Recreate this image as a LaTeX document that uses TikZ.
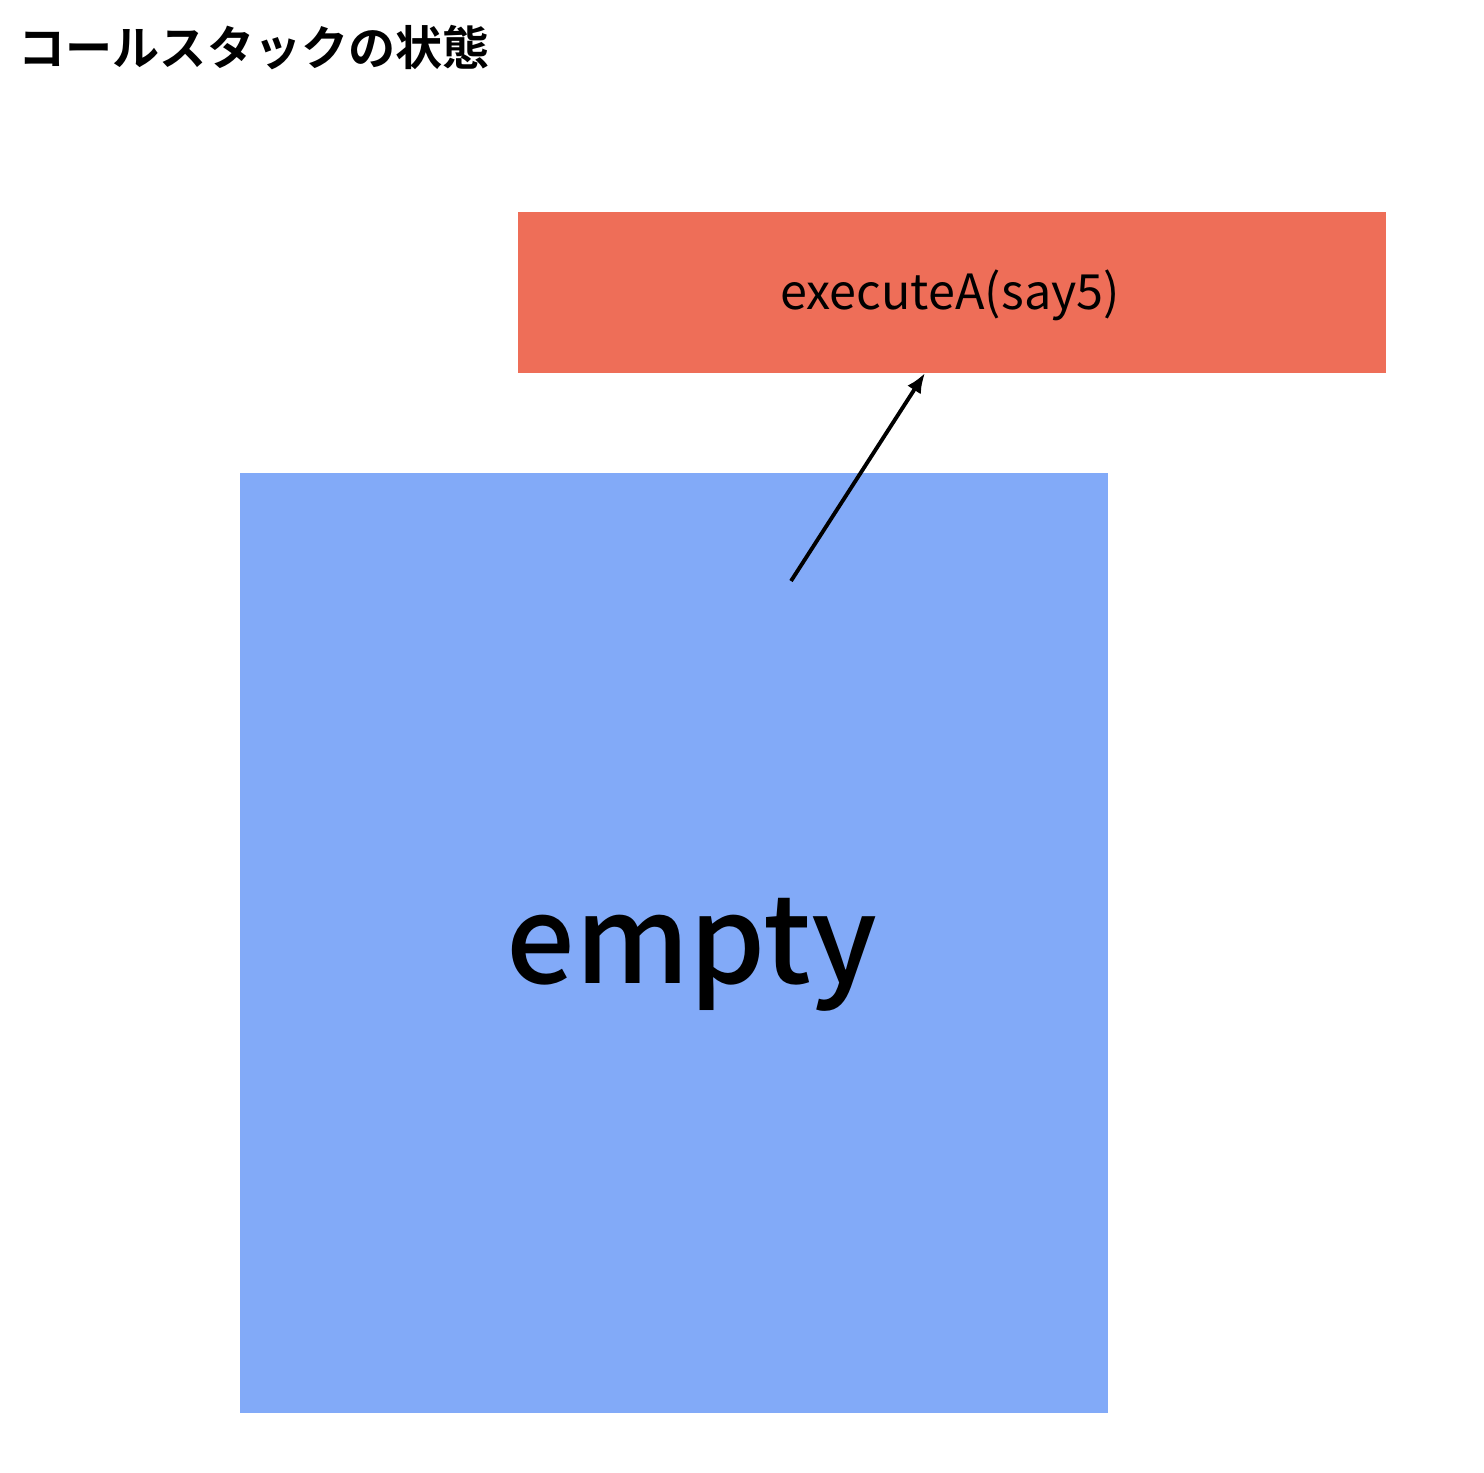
\documentclass[tikz,border=0pt]{standalone}
\usepackage{fontspec}
\setmainfont{Noto Sans CJK JP}
\newfontfamily\titlefont{Noto Sans CJK JP Bold}
\newfontfamily\emptyfont{Noto Sans CJK JP Medium}
\usetikzlibrary{arrows.meta, positioning}
\definecolor{framered}{RGB}{238,110,88}
\definecolor{stackblue}{RGB}{130,170,248}

\begin{document}
\begin{tikzpicture}[
		box/.style={inner sep=0pt, outer sep=0pt, minimum width=8.68cm},
		call/.style={-{Latex[length=0.2cm, width=0.16cm]}, line width=1.1pt}
	]
		\useasboundingbox (0,0) rectangle (14.84,-14.72);
		% Title
		\node[anchor=west, inner sep=0pt] (title) at (0.18,-0.48) {\titlefont\fontsize{13.4}{16}\selectfont コールスタックの状態};

		% Stack frame
		\node[box, fill=framered, minimum height=1.61cm] (frameA) at (9.52,-2.925) {};
		\node[inner sep=0pt] (frameAlabel) at (9.5,-2.95) {\fontsize{13.8}{16}\selectfont executeA(say5)};

		% Queue
		\node[box, fill=stackblue, minimum height=9.40cm] (queue) at (6.74,-9.43) {};
		\node[inner sep=0pt] (queuelabel) at (6.92,-9.55) {\emptyfont\fontsize{34.5}{40}\selectfont empty};

		% Call
		\coordinate (tail) at (7.91,-5.81);
		\coordinate (tip) at (9.25,-3.73);
		\draw[call] (tail) -- (tip);
	\end{tikzpicture}
\end{document}
